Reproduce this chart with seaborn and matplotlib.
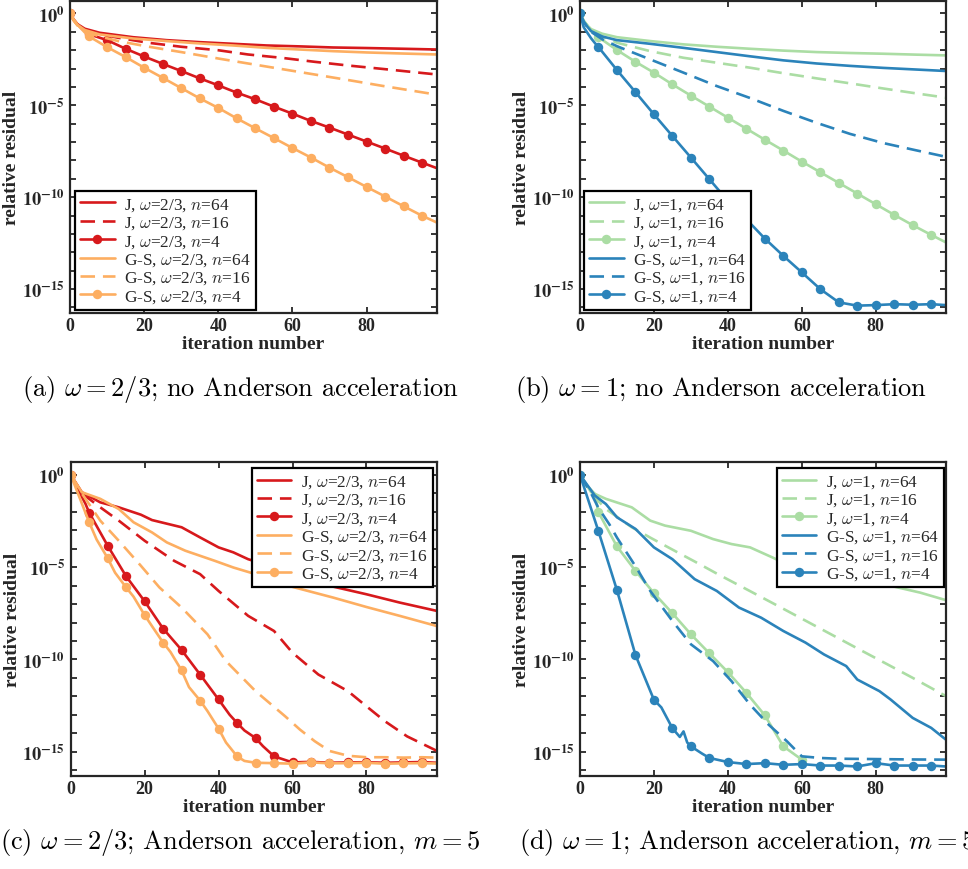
import numpy as np
import matplotlib
matplotlib.use("Agg")
import matplotlib.pyplot as plt
import seaborn as sns
from matplotlib.ticker import NullLocator

# ---------------- colours ----------------
RED = "#d7191c"
ORANGE = "#fdae61"
GREEN = "#abdda4"
BLUE = "#2b83ba"

# ---------------- data (log10 of relative residual) ----------------
# (a) omega = 2/3, no Anderson
a_J64_it = [0, 1, 2, 4, 8, 17, 26, 35, 44, 53, 62, 71, 80, 90, 99]
a_J64 = [0, -0.35, -0.58, -0.83, -1.05, -1.29, -1.45, -1.56, -1.65, -1.74, -1.79, -1.85, -1.88, -1.92, -1.96]
a_J16_it = [0, 1, 2, 4, 8, 13, 21, 30, 40, 48, 57, 66, 75, 84, 99]
a_J16 = [0, -0.35, -0.6, -0.9, -1.12, -1.32, -1.59, -1.81, -2.0, -2.23, -2.41, -2.63, -2.83, -3.01, -3.32]
a_J4_it = [0, 1, 2, 3, 4, 5, 10, 15, 20, 25, 30, 35, 40, 45, 50, 55, 60, 65, 70, 75, 80, 85, 90, 95, 99]
a_J4 = [0, -0.33, -0.58, -0.78, -0.95, -1.12, -1.45, -1.92, -2.34, -2.74, -3.13, -3.53, -3.91, -4.31, -4.67,
        -5.07, -5.45, -5.85, -6.21, -6.59, -6.97, -7.35, -7.74, -8.12, -8.42]
a_GS64_it = [0, 1, 2, 4, 8, 17, 26, 35, 44, 53, 62, 71, 80, 90, 99]
a_GS64 = [0, -0.38, -0.62, -0.9, -1.14, -1.36, -1.5, -1.63, -1.74, -1.87, -1.96, -2.05, -2.12, -2.18, -2.23]
a_GS16_it = [0, 1, 2, 4, 8, 13, 21, 30, 40, 48, 57, 66, 75, 84, 99]
a_GS16 = [0, -0.38, -0.65, -0.98, -1.25, -1.5, -1.8, -2.1, -2.45, -2.72, -3.02, -3.32, -3.62, -3.93, -4.42]
a_GS4_it = [0, 1, 2, 3, 4, 5, 10, 15, 20, 25, 30, 35, 40, 45, 50, 55, 60, 65, 70, 75, 80, 85, 90, 95, 99]
a_GS4 = [0, -0.32, -0.6, -0.82, -1.03, -1.23, -1.83, -2.37, -2.95, -3.5, -4.06, -4.62, -5.14, -5.71, -6.25,
         -6.78, -7.32, -7.84, -8.39, -8.91, -9.44, -9.96, -10.49, -11.01, -11.38]

# (b) omega = 1, no Anderson
b_J64_it = [0, 1, 2, 3, 6, 10, 19, 28, 37, 46, 55, 64, 73, 82, 91, 99]
b_J64 = [0, -0.4, -0.65, -0.85, -1.1, -1.29, -1.5, -1.68, -1.81, -1.92, -2.02, -2.1, -2.15, -2.19, -2.24, -2.28]
b_J16_it = [0, 1, 2, 3, 6, 10, 19, 28, 37, 46, 55, 64, 73, 82, 91, 99]
b_J16 = [0, -0.4, -0.65, -0.88, -1.25, -1.59, -2.05, -2.41, -2.68, -2.95, -3.25, -3.53, -3.8, -4.08, -4.35, -4.58]
b_J4_it = [0, 1, 2, 3, 4, 5, 10, 15, 20, 25, 30, 35, 40, 45, 50, 55, 60, 65, 70, 75, 80, 85, 90, 95, 99]
b_J4 = [0, -0.4, -0.7, -0.95, -1.13, -1.29, -1.99, -2.63, -3.22, -3.86, -4.47, -5.07, -5.67, -6.27, -6.87,
        -7.46, -8.06, -8.64, -9.22, -9.8, -10.38, -10.96, -11.52, -12.05, -12.46]
b_GS64_it = [0, 1, 2, 3, 6, 10, 19, 28, 37, 46, 55, 64, 73, 82, 91, 99]
b_GS64 = [0, -0.45, -0.72, -0.96, -1.25, -1.45, -1.65, -1.87, -2.1, -2.33, -2.55, -2.72, -2.85, -2.96, -3.05, -3.13]
b_GS16_it = [0, 1, 2, 3, 6, 10, 19, 28, 37, 46, 55, 64, 73, 82, 91, 99]
b_GS16 = [0, -0.45, -0.75, -1.0, -1.4, -1.78, -2.5, -3.22, -3.95, -4.6, -5.3, -5.95, -6.55, -7.05, -7.45, -7.8]
b_GS4_it = [0, 1, 2, 3, 4, 5, 10, 15, 20, 25, 30, 35, 40, 45, 50, 55, 60, 65, 70, 75, 80, 85, 90, 95, 99]
b_GS4 = [0, -0.75, -1.05, -1.35, -1.6, -1.83, -3.08, -4.28, -5.49, -6.67, -7.84, -9.02, -10.2, -11.2, -12.25,
         -13.19, -14.09, -15.0, -15.72, -15.9, -15.87, -15.82, -15.85, -15.82, -15.87]

# (c) omega = 2/3, Anderson m = 5
c_J64_it = [0, 3, 8, 13, 19, 22, 30, 35, 40, 44, 48, 55, 62, 70, 80, 89, 99]
c_J64 = [0, -0.94, -1.49, -1.76, -2.16, -2.45, -2.84, -3.39, -3.93, -4.2, -4.57, -5.0, -5.5, -6.01, -6.47, -6.92, -7.37]
c_J16_it = [0, 3, 8, 13, 20, 28, 35, 40, 48, 55, 60, 67, 75, 80, 85, 91, 99]
c_J16 = [0, -1.0, -1.76, -2.48, -3.57, -4.66, -5.38, -6.29, -7.64, -8.46, -9.64, -10.82, -11.72, -12.54, -13.35,
         -14.17, -14.95]
c_J4_it = [0, 2, 4, 5, 10, 15, 20, 25, 30, 35, 40, 43, 45, 47, 50, 52, 55, 60, 65, 70, 75, 80, 85, 90, 95, 99]
c_J4 = [0, -0.8, -1.57, -2.05, -3.84, -5.5, -6.85, -8.33, -9.49, -10.82, -12.17, -13.0, -13.44, -13.85, -14.26,
        -14.7, -15.25, -15.58, -15.55, -15.6, -15.58, -15.57, -15.6, -15.58, -15.56, -15.6]
c_GS64_it = [0, 3, 8, 13, 17, 22, 26, 31, 39, 44, 50, 55, 60, 71, 80, 89, 99]
c_GS64 = [0, -0.94, -1.3, -1.85, -2.57, -3.12, -3.66, -4.11, -4.66, -5.02, -5.38, -5.74, -6.07, -6.65, -7.16,
          -7.64, -8.19]
c_GS16_it = [0, 3, 8, 13, 19, 24, 30, 37, 42, 50, 58, 62, 66, 70, 75, 80, 85, 90, 95, 99]
c_GS16 = [0, -1.0, -2.48, -3.57, -4.93, -6.1, -7.19, -8.64, -10.09, -11.72, -13.08, -13.8, -14.43, -14.96,
          -15.22, -15.3, -15.3, -15.32, -15.3, -15.32]
c_GS4_it = [0, 5, 7, 10, 12, 15, 17, 20, 22, 25, 27, 30, 32, 35, 37, 40, 42, 45, 47, 50, 55, 60, 65, 70, 75,
            80, 85, 90, 95, 99]
c_GS4 = [0, -2.57, -3.5, -4.51, -5.3, -6.1, -6.6, -7.6, -8.2, -9.09, -9.6, -10.6, -11.5, -12.23, -12.8, -13.75,
         -14.5, -15.25, -15.5, -15.6, -15.62, -15.65, -15.58, -15.63, -15.62, -15.6, -15.65, -15.63, -15.62, -15.64]

# (d) omega = 1, Anderson m = 5
d_J64_it = [0, 3, 7, 14, 19, 23, 30, 36, 41, 46, 52, 54, 60, 66, 72, 78, 84, 92, 99]
d_J64 = [0, -0.94, -1.3, -1.76, -2.48, -2.75, -3.03, -3.48, -3.75, -3.93, -4.47, -4.66, -4.95, -5.2, -5.45,
         -5.75, -6.01, -6.38, -6.79]
d_J16_it = [0, 3, 7, 14, 19, 25, 32, 37, 46, 54, 61, 68, 75, 83, 90, 99]
d_J16 = [0, -1.0, -1.85, -2.84, -3.4, -4.05, -4.8, -5.35, -6.3, -7.15, -7.9, -8.65, -9.4, -10.25, -11.0, -11.99]
d_J4_it = [0, 2, 4, 5, 10, 15, 20, 25, 30, 35, 40, 45, 50, 55, 60]
d_J4 = [0, -0.6, -1.03, -2.03, -3.88, -5.2, -6.41, -7.5, -8.64, -9.67, -10.69, -11.81, -13.03, -14.71, -15.43]
d_GS64_it = [0, 4, 7, 10, 15, 20, 25, 31, 37, 43, 49, 55, 61, 66, 72, 75, 81, 84, 90, 95, 99]
d_GS64 = [0, -1.12, -1.58, -2.3, -2.93, -3.93, -4.57, -5.65, -6.29, -7.19, -7.74, -8.46, -9.09, -9.73, -10.36,
          -11.09, -11.72, -12.17, -13.17, -13.71, -14.35]
d_GS16_it = [0, 3, 5, 8, 10, 15, 19, 25, 30, 36, 41, 46, 51, 56, 60, 65, 70, 80, 90, 99]
d_GS16 = [0, -1.0, -1.8, -2.7, -3.4, -4.95, -6.29, -7.92, -9.18, -10.09, -11.18, -12.45, -13.53, -14.44, -15.25,
          -15.34, -15.38, -15.4, -15.42, -15.43]
d_GS4_it = [0, 5, 10, 15, 20, 22, 25, 27, 28, 29, 30, 33, 35, 40, 45, 50, 55, 60, 65, 70, 75, 80, 85, 90, 95, 99]
d_GS4 = [0, -3.06, -6.25, -9.76, -12.19, -12.6, -13.73, -14.2, -13.9, -14.5, -14.71, -15.1, -15.34, -15.56,
         -15.67, -15.62, -15.71, -15.67, -15.75, -15.75, -15.8, -15.62, -15.75, -15.75, -15.75, -15.8]

# ---------------- text ----------------
labels_a = [r"J, $\omega$=2/3, $n$=64", r"J, $\omega$=2/3, $n$=16", r"J, $\omega$=2/3, $n$=4",
            r"G-S, $\omega$=2/3, $n$=64", r"G-S, $\omega$=2/3, $n$=16", r"G-S, $\omega$=2/3, $n$=4"]
labels_b = [r"J, $\omega$=1, $n$=64", r"J, $\omega$=1, $n$=16", r"J, $\omega$=1, $n$=4",
            r"G-S, $\omega$=1, $n$=64", r"G-S, $\omega$=1, $n$=16", r"G-S, $\omega$=1, $n$=4"]
captions = [r"(a) $\omega = 2/3$; no Anderson acceleration",
            r"(b) $\omega = 1$; no Anderson acceleration",
            r"(c) $\omega = 2/3$; Anderson acceleration, $m = 5$",
            r"(d) $\omega = 1$; Anderson acceleration, $m = 5$"]
xticks = [0, 20, 40, 60, 80]
ytick_exps = list(range(0, -17, -1))
xlabel = "iteration number"
ylabel = "relative residual"

# ---------------- style ----------------
sns.set_style("ticks")
plt.rcParams["font.family"] = ["Liberation Serif", "DejaVu Serif"]
plt.rcParams["mathtext.fontset"] = "cm"
DARK = "#262626"

W, H = 968, 870
fig = plt.figure(figsize=(W / 100, H / 100), dpi=100)


def fx(px):
    return px / W


def fy(py):
    return 1 - py / H


axes_px = {  # left, top, right, bottom (pixels)
    "a": (70, 2, 437, 314),
    "b": (580, 2, 946, 314),
    "c": (70.7, 463.3, 436.7, 776.7),
    "d": (580, 463.3, 946, 776.7),
}
legend_px = {  # left, bottom in pixels
    "a": (75, 311),
    "b": (584, 311),
    "c": (251.7, 588.3),
    "d": (776.7, 588.3),
}

panels = {
    "a": [(a_J64_it, a_J64, RED, "-", None), (a_J16_it, a_J16, RED, "--", None), (a_J4_it, a_J4, RED, "-", "o"),
          (a_GS64_it, a_GS64, ORANGE, "-", None), (a_GS16_it, a_GS16, ORANGE, "--", None),
          (a_GS4_it, a_GS4, ORANGE, "-", "o")],
    "b": [(b_J64_it, b_J64, GREEN, "-", None), (b_J16_it, b_J16, GREEN, "--", None), (b_J4_it, b_J4, GREEN, "-", "o"),
          (b_GS64_it, b_GS64, BLUE, "-", None), (b_GS16_it, b_GS16, BLUE, "--", None),
          (b_GS4_it, b_GS4, BLUE, "-", "o")],
    "c": [(c_J64_it, c_J64, RED, "-", None), (c_J16_it, c_J16, RED, "--", None), (c_J4_it, c_J4, RED, "-", "o"),
          (c_GS64_it, c_GS64, ORANGE, "-", None), (c_GS16_it, c_GS16, ORANGE, "--", None),
          (c_GS4_it, c_GS4, ORANGE, "-", "o")],
    "d": [(d_J64_it, d_J64, GREEN, "-", None), (d_J16_it, d_J16, GREEN, "--", None), (d_J4_it, d_J4, GREEN, "-", "o"),
          (d_GS64_it, d_GS64, BLUE, "-", None), (d_GS16_it, d_GS16, BLUE, "--", None),
          (d_GS4_it, d_GS4, BLUE, "-", "o")],
}
panel_labels = {"a": labels_a, "b": labels_b, "c": labels_a, "d": labels_b}

for key, series in panels.items():
    l, t, r, b = axes_px[key]
    ax = fig.add_axes([fx(l), fy(b), fx(r) - fx(l), fy(t) - fy(b)])
    for (it, lg, col, ls, mk), lab in zip(series, panel_labels[key]):
        it = np.asarray(it, dtype=float)
        vals = 10.0 ** np.asarray(lg, dtype=float)
        kw = dict(color=col, linewidth=1.9, label=lab)
        if ls == "--":
            kw["linestyle"] = (0, (5.5, 3.0))
        if mk:
            kw["marker"] = "o"
            kw["markersize"] = 6.8
            kw["markeredgewidth"] = 0
            kw["markevery"] = [i for i, v in enumerate(it) if v % 5 == 0 and v <= 95]
        sns.lineplot(x=it, y=vals, ax=ax, sort=False, estimator=None, legend=False, **kw)
    ax.set_yscale("log")
    ax.set_xlim(0, 99)
    ax.set_ylim(10 ** -16.3, 10 ** 0.68)
    ax.yaxis.set_minor_locator(NullLocator())
    ax.set_yticks([10.0 ** e for e in ytick_exps],
                  labels=[(r"$\mathbf{10^{%d}}$" % e) if e % 5 == 0 else "" for e in ytick_exps],
                  math_fontfamily="stix", fontsize=13.2, color=DARK)
    ax.set_xticks(xticks, labels=[str(v) for v in xticks], fontweight="bold", fontsize=13, color=DARK)
    ax.tick_params(axis="both", which="both", direction="in", top=True, right=True,
                   length=4, width=1.3, color=DARK, pad=4)
    ax.tick_params(axis="x", pad=3)
    for s in ax.spines.values():
        s.set_linewidth(1.6)
        s.set_color(DARK)
    ax.set_xlabel(xlabel, fontsize=14, fontweight="bold", color=DARK, labelpad=0.5)
    ax.set_ylabel(ylabel, fontsize=14, fontweight="bold", color=DARK, labelpad=1)
    lx, lb = legend_px[key]
    leg = ax.legend(loc="lower left", bbox_to_anchor=(fx(lx), fy(lb)), bbox_transform=fig.transFigure,
                    borderaxespad=0, fontsize=12.4, frameon=True, fancybox=False, framealpha=1,
                    edgecolor="black", handlelength=2.0, handletextpad=0.55, labelspacing=0.1,
                    borderpad=0.3)
    leg.get_frame().set_linewidth(1.6)

cap_pos = [(22, 390), (515, 390), (0, 843), (519, 843)]
for (cx, cy), txt in zip(cap_pos, captions):
    fig.text(fx(cx), fy(cy), txt, ha="left", va="center", fontsize=19, family="cmr10",
             math_fontfamily="cm", color="black")

fig.savefig("out.png", dpi=100)
